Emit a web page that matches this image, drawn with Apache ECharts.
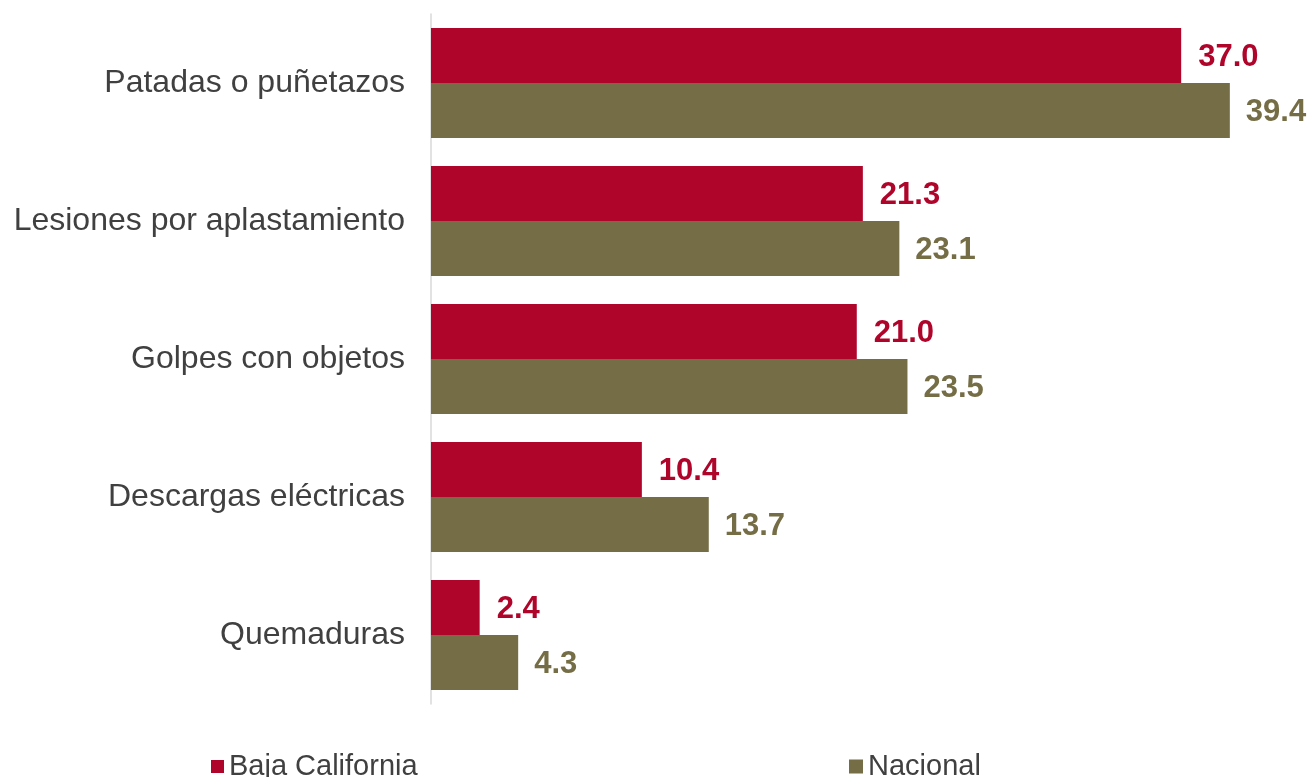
<!DOCTYPE html>
<html>
<head>
<meta charset="utf-8">
<script src="https://cdn.jsdelivr.net/npm/echarts@6/dist/echarts.min.js"></script>
<style>html,body{margin:0;padding:0;background:#fff}#c{width:1312px;height:777px}</style>
</head>
<body>
<div id="c"></div>
<script>
var categories = ["Patadas o puñetazos", "Lesiones por aplastamiento", "Golpes con objetos", "Descargas eléctricas", "Quemaduras"];
var bajaCalifornia = [37.0, 21.3, 21.0, 10.4, 2.4];
var nacional = [39.4, 23.1, 23.5, 13.7, 4.3];
var seriesNames = ["Baja California", "Nacional"];

var RED = "#B0052B", OLIVE = "#756D45";
var FONT = 'Liberation Sans, Arial, sans-serif';
var chart = echarts.init(document.getElementById('c'));
chart.setOption({
  animation: false,
  grid: {left: 431, top: 14, bottom: 73, right: 70, containLabel: false},
  xAxis: {type: 'value', min: 0, max: 40, show: false},
  yAxis: {
    type: 'category', data: categories, inverse: true,
    axisLine: {show: true, lineStyle: {color: '#D9D9D9', width: 1.5}},
    axisTick: {show: false},
    axisLabel: {color: '#404040', fontSize: 32, fontFamily: FONT, margin: 26}
  },
  legend: [
    {data: [seriesNames[0]], left: 206, top: 747, icon: 'rect', itemWidth: 13, itemHeight: 13, itemGap: 0,
     textStyle: {color: '#404040', fontSize: 29, fontFamily: FONT}},
    {data: [seriesNames[1]], left: 844, top: 747, icon: 'rect', itemWidth: 14, itemHeight: 14, itemGap: 0,
     textStyle: {color: '#404040', fontSize: 29, fontFamily: FONT}}
  ],
  series: [
    {name: seriesNames[0], type: 'bar', data: bajaCalifornia, barWidth: 55, barGap: '0%',
     itemStyle: {color: RED},
     label: {show: true, position: 'right', distance: 17, offset: [0, 2], color: RED, fontWeight: 'bold', fontSize: 31,
       fontFamily: FONT, formatter: function(p){return p.value.toFixed(1);}}},
    {name: seriesNames[1], type: 'bar', data: nacional, barWidth: 55, barGap: '0%',
     itemStyle: {color: OLIVE},
     label: {show: true, position: 'right', distance: 16, offset: [0, 2], color: OLIVE, fontWeight: 'bold', fontSize: 31,
       fontFamily: FONT, formatter: function(p){return p.value.toFixed(1);}}}
  ]
});
</script>
</body>
</html>
